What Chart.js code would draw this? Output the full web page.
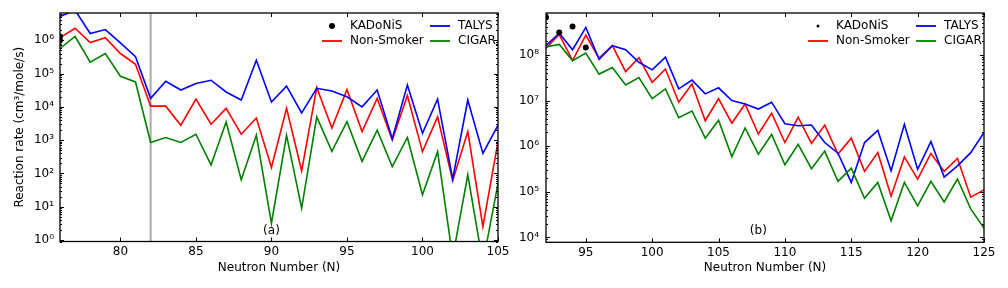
<!DOCTYPE html>
<html>
<head>
<meta charset="utf-8">
<script src="https://cdn.jsdelivr.net/npm/chart.js@4"></script>
<style>
    body { margin: 0; background: #fff; }
    #wrap { position: relative; width: 1008px; height: 288px; overflow: hidden; }
    canvas { position: absolute; top: 0; }
</style>
</head>
<body>
<div id="wrap">
    <canvas id="painelA" width="520" height="288" style="left:0"></canvas>
    <canvas id="painelB" width="504" height="288" style="left:504px"></canvas>
</div>
<script>
// painel (a): N = 76..105
const nA = [76, 77, 78, 79, 80, 81, 82, 83, 84, 85, 86, 87, 88, 89, 90,
            91, 92, 93, 94, 95, 96, 97, 98, 99, 100, 101, 102, 103, 104, 105];
const talysA = [5.2e6, 8e6, 1.6e6, 2.1e6, 8.3e5, 3.2e5, 1.8e4, 5.9e4, 3.2e4, 5e4, 6.3e4, 2.8e4, 1.6e4, 2.5e5, 1.4e4,
                4.2e4, 6.6e3, 3.6e4, 3e4, 2e4, 1e4, 3.2e4, 1.1e3, 4.5e4, 1.6e3, 1.7e4, 68, 1.6e4, 400, 2.8e3];
const nonSmokerA = [1.2e6, 2.3e6, 8.5e5, 1.2e6, 4e5, 1.9e5, 1.05e4, 1.05e4, 2.8e3, 1.7e4, 3e3, 9e3, 1.5e3, 4.6e3, 150,
                    9e3, 120, 3.8e4, 2.3e3, 3.3e4, 1.8e3, 1.8e4, 1e3, 2.2e4, 450, 5e3, 60, 1.8e3, 2.5, 900];
const cigarA = [5.7e5, 1.3e6, 2.2e5, 4e5, 8.3e4, 5.6e4, 850, 1.2e3, 850, 1.5e3, 180, 3.5e3, 65, 1.4e3, 3.2,
                1.4e3, 9, 5e3, 460, 3.6e3, 230, 2e3, 160, 1.2e3, 23, 450, 0.3, 90, 0.2, 50];
const kadonisNA = [76, 76];
const kadonisA = [1.3e6, 9.8e5];
const camadaN = 82;
const xTicksA = [80, 85, 90, 95, 100, 105];

// painel (b): N = 92..125
const nB = [92, 93, 94, 95, 96, 97, 98, 99, 100, 101, 102, 103, 104, 105, 106, 107, 108,
            109, 110, 111, 112, 113, 114, 115, 116, 117, 118, 119, 120, 121, 122, 123, 124, 125];
const talysB = [1.6e8, 3e8, 1.3e8, 4e8, 8e7, 1.6e8, 1.3e8, 6.9e7, 4.7e7, 8.9e7, 1.8e7, 2.8e7, 1.4e7, 1.9e7, 1e7, 8.4e6, 6.5e6,
                9.2e6, 3.1e6, 2.8e6, 2.9e6, 1.2e6, 7e5, 1.6e5, 1.2e6, 2.2e6, 2.9e5, 3e6, 3.1e5, 1.26e6, 2.1e5, 3.7e5, 7.2e5, 2e6];
const nonSmokerB = [1.4e8, 2.8e8, 7.5e7, 2.7e8, 8.5e7, 1.6e8, 4.3e7, 8.7e7, 2.5e7, 4.9e7, 9.2e6, 2.3e7, 3.6e6, 1.1e7, 3.2e6, 8.4e6, 1.85e6,
                    5.3e6, 1.2e6, 4.3e6, 1.15e6, 2.9e6, 6.7e5, 1.5e6, 2.8e5, 7.2e5, 8e4, 5.8e5, 1.9e5, 6.9e5, 2.8e5, 5.4e5, 7.6e4, 1.1e5];
const cigarB = [1.5e8, 1.7e8, 7.5e7, 1.1e8, 3.8e7, 5.3e7, 2.2e7, 3.2e7, 1.1e7, 1.8e7, 4.2e6, 5.9e6, 1.5e6, 3.7e6, 5.9e5, 2.5e6, 6.7e5,
                1.8e6, 3.9e5, 1.1e6, 3.2e5, 7.8e5, 1.7e5, 3.3e5, 7.2e4, 1.6e5, 2.3e4, 1.6e5, 4.9e4, 1.7e5, 6e4, 1.9e5, 4.2e4, 1.6e4];
const kadonisNB = [92, 93, 94, 95];
const kadonisB = [6.7e8, 3.1e8, 4.2e8, 1.45e8];
const xTicksB = [95, 100, 105, 110, 115, 120, 125];

Chart.defaults.font.family = "'DejaVu Sans', sans-serif";
Chart.defaults.font.size = 12;
Chart.defaults.color = '#000';

const sup = {'0':'⁰','1':'¹','2':'²','3':'³','4':'⁴','5':'⁵','6':'⁶','7':'⁷','8':'⁸','9':'⁹','-':'⁻'};

function ehPotencia(v) {
    const l = Math.log10(v);
    return Math.abs(l - Math.round(l)) < 1e-9;
}

function ticksLog(min, max) {
    const lista = [];
    for (let e = Math.floor(Math.log10(min)); e <= Math.ceil(Math.log10(max)); e++) {
        for (let m = 1; m <= 9; m++) {
            const v = m * Math.pow(10, e);
            if (v >= min && v <= max) lista.push({value: v});
        }
    }
    return lista;
}

function pares(xs, ys) {
    return xs.map((x, i) => ({x: x, y: ys[i]}));
}

// moldura, ticks para dentro, legenda em 2 colunas e rotulo do painel
const moldura = {
    id: 'moldura',
    afterDraw(chart, args, opts) {
        const {ctx, chartArea: a, scales: {x, y}} = chart;
        ctx.save();
        ctx.strokeStyle = '#000';
        ctx.lineWidth = 1;
        const linha = (x1, y1, x2, y2) => {
            ctx.beginPath();
            ctx.moveTo(x1, y1);
            ctx.lineTo(x2, y2);
            ctx.stroke();
        };
        x.ticks.forEach(t => {
            const px = Math.round(x.getPixelForValue(t.value)) + 0.5;
            linha(px, a.bottom, px, a.bottom - 4);
            linha(px, a.top, px, a.top + 4);
        });
        y.ticks.forEach(t => {
            const len = ehPotencia(t.value) ? 4 : 2;
            const py = Math.round(y.getPixelForValue(t.value)) + 0.5;
            linha(a.left, py, a.left + len, py);
            linha(a.right, py, a.right - len, py);
        });
        ctx.lineWidth = 1.3;
        ctx.strokeRect(a.left, a.top, a.right - a.left, a.bottom - a.top);

        // legenda
        ctx.font = "12px 'DejaVu Sans'";
        ctx.textBaseline = 'middle';
        ctx.textAlign = 'left';
        ctx.fillStyle = '#000';
        const linhas = [a.top + 13, a.top + 28];
        const colunas = [a.right - 176, a.right - 68];
        opts.itens.forEach((it, i) => {
            const cx = colunas[Math.floor(i / 2)];
            const cy = linhas[i % 2];
            if (it.ponto) {
                ctx.beginPath();
                ctx.arc(cx + 10, cy, opts.raioPonto, 0, Math.PI * 2);
                ctx.fill();
            } else {
                ctx.strokeStyle = it.cor;
                ctx.lineWidth = 1.8;
                linha(cx, cy, cx + 20, cy);
            }
            ctx.fillText(it.texto, cx + 28, cy);
        });

        ctx.textAlign = 'center';
        ctx.fillText(opts.rotulo, x.getPixelForValue(opts.rotuloN), a.bottom - 11);
        ctx.restore();
    }
};

function montarGrafico(id, cfg) {
    const datasets = [
        {
            label: 'KADoNiS', data: pares(cfg.kadN, cfg.kad), showLine: false,
            pointRadius: cfg.raio, pointBackgroundColor: '#000', pointBorderWidth: 0, borderColor: '#000'
        },
        {label: 'CIGAR', data: pares(cfg.n, cfg.cigar), borderColor: '#008000', borderWidth: 1.6, pointRadius: 0},
        {label: 'TALYS', data: pares(cfg.n, cfg.talys), borderColor: '#0000ff', borderWidth: 1.6, pointRadius: 0},
        {label: 'Non-Smoker', data: pares(cfg.n, cfg.nonSmoker), borderColor: '#ff0000', borderWidth: 1.6, pointRadius: 0}
    ];
    if (cfg.camada) {
        datasets.push({
            label: 'camada', data: [{x: cfg.camada, y: cfg.yMin}, {x: cfg.camada, y: cfg.yMax}],
            borderColor: '#aaaaaa', borderWidth: 2, pointRadius: 0
        });
    }

    return new Chart(document.getElementById(id), {
        type: 'line',
        data: {datasets: datasets},
        options: {
            responsive: false,
            animation: false,
            layout: {padding: {left: 0, right: cfg.padDir, top: 13, bottom: 0}},
            plugins: {
                legend: {display: false},
                tooltip: {enabled: false},
                moldura: {
                    itens: [
                        {texto: 'KADoNiS', ponto: true},
                        {texto: 'Non-Smoker', cor: '#ff0000'},
                        {texto: 'TALYS', cor: '#0000ff'},
                        {texto: 'CIGAR', cor: '#008000'}
                    ],
                    raioPonto: cfg.raioLegenda,
                    rotulo: cfg.rotulo,
                    rotuloN: cfg.rotuloN
                }
            },
            scales: {
                x: {
                    type: 'linear',
                    min: cfg.n[0],
                    max: cfg.n[cfg.n.length - 1],
                    grid: {display: false, drawTicks: false},
                    border: {display: false},
                    afterBuildTicks: s => { s.ticks = cfg.xTicks.map(v => ({value: v})); },
                    afterFit: s => {
                        s.height = cfg.alturaX;
                        s.paddingLeft = 0;
                        s.paddingRight = 0;
                    },
                    ticks: {padding: 3, autoSkip: false, maxRotation: 0},
                    title: {display: true, text: 'Neutron Number (N)', padding: {top: 0, bottom: 13}}
                },
                y: {
                    type: 'logarithmic',
                    min: cfg.yMin,
                    max: cfg.yMax,
                    grid: {display: false, drawTicks: false},
                    border: {display: false},
                    afterBuildTicks: s => { s.ticks = ticksLog(cfg.yMin, cfg.yMax); },
                    afterFit: s => {
                        s.width = cfg.larguraY;
                        s.paddingTop = 0;
                        s.paddingBottom = 0;
                    },
                    ticks: {
                        padding: cfg.padY,
                        autoSkip: false,
                        callback: v => {
                            if (!ehPotencia(v)) return '';
                            const e = String(Math.round(Math.log10(v)));
                            return '10' + e.split('').map(c => sup[c]).join('');
                        }
                    },
                    title: {
                        display: cfg.tituloY,
                        text: 'Reaction rate (cm³/mole/s)',
                        padding: {top: 13, bottom: 0}
                    }
                }
            }
        },
        plugins: [moldura]
    });
}

montarGrafico('painelA', {
    n: nA, talys: talysA, nonSmoker: nonSmokerA, cigar: cigarA,
    kadN: kadonisNA, kad: kadonisA, camada: camadaN, xTicks: xTicksA,
    yMin: 0.9, yMax: 6.6e6, padDir: 22, larguraY: 60, alturaX: 46.5, padY: 6,
    tituloY: true, raio: 3, raioLegenda: 3, rotulo: '(a)', rotuloN: 90
});

montarGrafico('painelB', {
    n: nB, talys: talysB, nonSmoker: nonSmokerB, cigar: cigarB,
    kadN: kadonisNB, kad: kadonisB, camada: null, xTicks: xTicksB,
    yMin: 7.8e3, yMax: 8.3e8, padDir: 24, larguraY: 42, alturaX: 45.7, padY: 7,
    tituloY: false, raio: 3, raioLegenda: 1.5, rotulo: '(b)', rotuloN: 108
});
</script>
</body>
</html>
